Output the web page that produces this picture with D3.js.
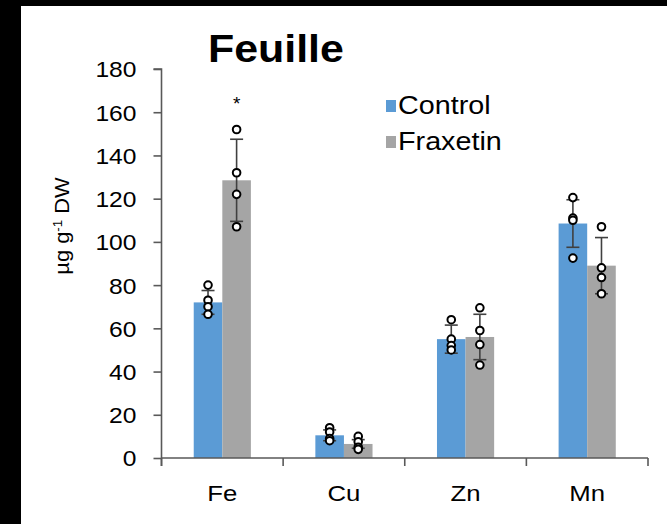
<!DOCTYPE html>
<html>
<head>
<meta charset="utf-8">
<script src="https://cdn.jsdelivr.net/npm/d3@7"></script>
<style>
  html, body { margin: 0; padding: 0; background: #fff; }
  svg { display: block; }
  text { font-family: "Liberation Sans", Arial, sans-serif; }
</style>
</head>
<body>
<svg id="chart" width="667" height="524"></svg>
<script>
// Leaf micronutrient content (µg g-1 DW), control vs. fraxetin
const categories = ["Fe", "Cu", "Zn", "Mn"];
const seriesNames = ["Control", "Fraxetin"];
const controlMean = [72, 10.5, 55, 108.5];
const fraxetinMean = [128.5, 6.5, 56, 89];
const controlSD = [5.5, 2.5, 6.5, 11];
const fraxetinSD = [19, 2, 10.5, 13];
const controlPoints = [[80, 73, 70, 66.5], [14, 12, 9, 8], [64, 55, 52, 50], [120.5, 111, 110, 92.5]];
const fraxetinPoints = [[152, 132, 122, 107], [10, 7.5, 5, 4], [69.5, 59, 52.5, 43], [107, 88, 83.5, 76]];
const significance = ["*", "", "", ""];
const yTicks = [0, 20, 40, 60, 80, 100, 120, 140, 160, 180];
const colors = ["#5B9BD5", "#A5A5A5"];

// the figure's lettering is set slightly wide
const stretch = 1.12;

const svg = d3.select("#chart");

// page frame
svg.append("rect").attr("x", 0).attr("y", 0).attr("width", 667).attr("height", 524).attr("fill", "#fff");
svg.append("rect").attr("x", 0).attr("y", 0).attr("width", 667).attr("height", 6).attr("fill", "#000");
svg.append("rect").attr("x", 0).attr("y", 0).attr("width", 21).attr("height", 524).attr("fill", "#000");

const x0 = 161.5, x1 = 648, yBottom = 458, yTop = 69;
const x = d3.scaleBand().domain(categories).range([x0, x1]).padding(0);
const bw = x.bandwidth();
const xs = d3.scaleBand().domain(seriesNames).range([bw * 0.265, bw * 0.735]).padding(0);
const y = d3.scaleLinear().domain([0, 180]).range([yBottom, yTop]);

const axisColor = "#595959";

// wide text helper: places a text at (px, py) with horizontal stretch
function placeWide(sel, px, py, k = stretch) {
  sel.attr("x", 0).attr("y", 0)
    .attr("transform", function (d, i) {
      const X = typeof px === "function" ? px(d, i) : px;
      const Y = typeof py === "function" ? py(d, i) : py;
      return `translate(${X},${Y}) scale(${k},1)`;
    });
  return sel;
}

// y axis
const yAxis = svg.append("g").attr("transform", `translate(${x0},0)`)
  .call(d3.axisLeft(y).tickValues(yTicks).tickSize(8).tickPadding(16).tickFormat(d3.format("d")));
yAxis.select(".domain").attr("stroke", axisColor).attr("stroke-width", 1.6).attr("d", `M-8,${yTop}H0V${yBottom + 8}`);
yAxis.selectAll(".tick line").attr("stroke", axisColor).attr("stroke-width", 1.6);
yAxis.selectAll(".tick text").attr("font-size", 22).attr("fill", "#000")
  .attr("font-family", "'Liberation Sans', Arial, sans-serif")
  .attr("dy", "0.36em")
  .call(s => placeWide(s, -25, 0));

// series data joined per category
const groups = categories.map((c, i) => ({
  cat: c,
  sig: significance[i],
  series: [
    { name: seriesNames[0], mean: controlMean[i], sd: controlSD[i], pts: controlPoints[i], color: colors[0] },
    { name: seriesNames[1], mean: fraxetinMean[i], sd: fraxetinSD[i], pts: fraxetinPoints[i], color: colors[1] }
  ]
}));

const g = svg.selectAll("g.cat").data(groups).join("g").attr("class", "cat")
  .attr("transform", d => `translate(${x(d.cat)},0)`);

g.selectAll("rect.bar").data(d => d.series).join("rect").attr("class", "bar")
  .attr("x", d => xs(d.name))
  .attr("width", xs.bandwidth())
  .attr("y", d => y(d.mean))
  .attr("height", d => y(0) - y(d.mean))
  .attr("fill", d => d.color);

// x axis (drawn over bar bottoms)
const xAxis = svg.append("g").attr("transform", `translate(0,${yBottom})`);
xAxis.append("line").attr("x1", x0).attr("x2", x1).attr("y1", 0).attr("y2", 0)
  .attr("stroke", axisColor).attr("stroke-width", 1.6);
const boundaries = categories.map(c => x(c)).concat([x1]);
xAxis.selectAll("line.tk").data(boundaries).join("line").attr("class", "tk")
  .attr("x1", d => d).attr("x2", d => d).attr("y1", 0).attr("y2", 8)
  .attr("stroke", axisColor).attr("stroke-width", 1.6);
xAxis.selectAll("text").data(categories).join("text")
  .attr("text-anchor", "middle").attr("font-size", 23).attr("fill", "#000")
  .text(d => d)
  .call(s => placeWide(s, d => x(d) + bw / 2, 43));

// error bars
const capHalf = 6.5;
const eb = g.selectAll("g.err").data(d => d.series).join("g").attr("class", "err")
  .attr("transform", d => `translate(${xs(d.name) + xs.bandwidth() / 2},0)`);
eb.append("line").attr("x1", 0).attr("x2", 0)
  .attr("y1", d => y(d.mean - d.sd)).attr("y2", d => y(d.mean + d.sd))
  .attr("stroke", "#404040").attr("stroke-width", 1.6);
eb.append("line").attr("x1", -capHalf).attr("x2", capHalf)
  .attr("y1", d => y(d.mean + d.sd)).attr("y2", d => y(d.mean + d.sd))
  .attr("stroke", "#404040").attr("stroke-width", 1.6);
eb.append("line").attr("x1", -capHalf).attr("x2", capHalf)
  .attr("y1", d => y(d.mean - d.sd)).attr("y2", d => y(d.mean - d.sd))
  .attr("stroke", "#404040").attr("stroke-width", 1.6);

// individual replicates
eb.selectAll("circle").data(d => d.pts).join("circle")
  .attr("cx", 0).attr("cy", d => y(d)).attr("r", 3.8)
  .attr("fill", "#fff").attr("stroke", "#000").attr("stroke-width", 2);

// significance marks
g.filter(d => d.sig).append("text")
  .attr("x", xs(seriesNames[1]) + xs.bandwidth() / 2)
  .attr("y", d => y(d3.max(d.series[1].pts)) - 20)
  .attr("text-anchor", "middle").attr("font-size", 19).attr("fill", "#000")
  .text(d => d.sig);

// y-axis title
const yt = svg.append("text")
  .attr("transform", `translate(69,226) rotate(-90) scale(${stretch},1)`)
  .attr("text-anchor", "middle").attr("font-size", 19.5).attr("fill", "#000");
yt.append("tspan").text("µg g");
yt.append("tspan").attr("dy", -7).attr("font-size", 12).text("-1");
yt.append("tspan").attr("dy", 7).text(" DW");

// legend
const legend = svg.append("g").attr("transform", "translate(386,0)");
const legendRows = legend.selectAll("g").data(seriesNames).join("g")
  .attr("transform", (d, i) => `translate(0,${100 + i * 36})`);
legendRows.append("rect").attr("y", 0).attr("width", 10).attr("height", 12).attr("fill", (d, i) => colors[i]);
legendRows.append("text").attr("font-size", 25).attr("fill", "#000").text(d => d)
  .call(s => placeWide(s, 12, 13.5, 1.15));

// title
svg.append("text")
  .attr("font-family", "Lato, 'Open Sans', sans-serif").attr("font-weight", 700)
  .attr("font-size", 39).attr("fill", "#000").text("Feuille")
  .call(s => placeWide(s, 208, 62, 1.1));
</script>
</body>
</html>
